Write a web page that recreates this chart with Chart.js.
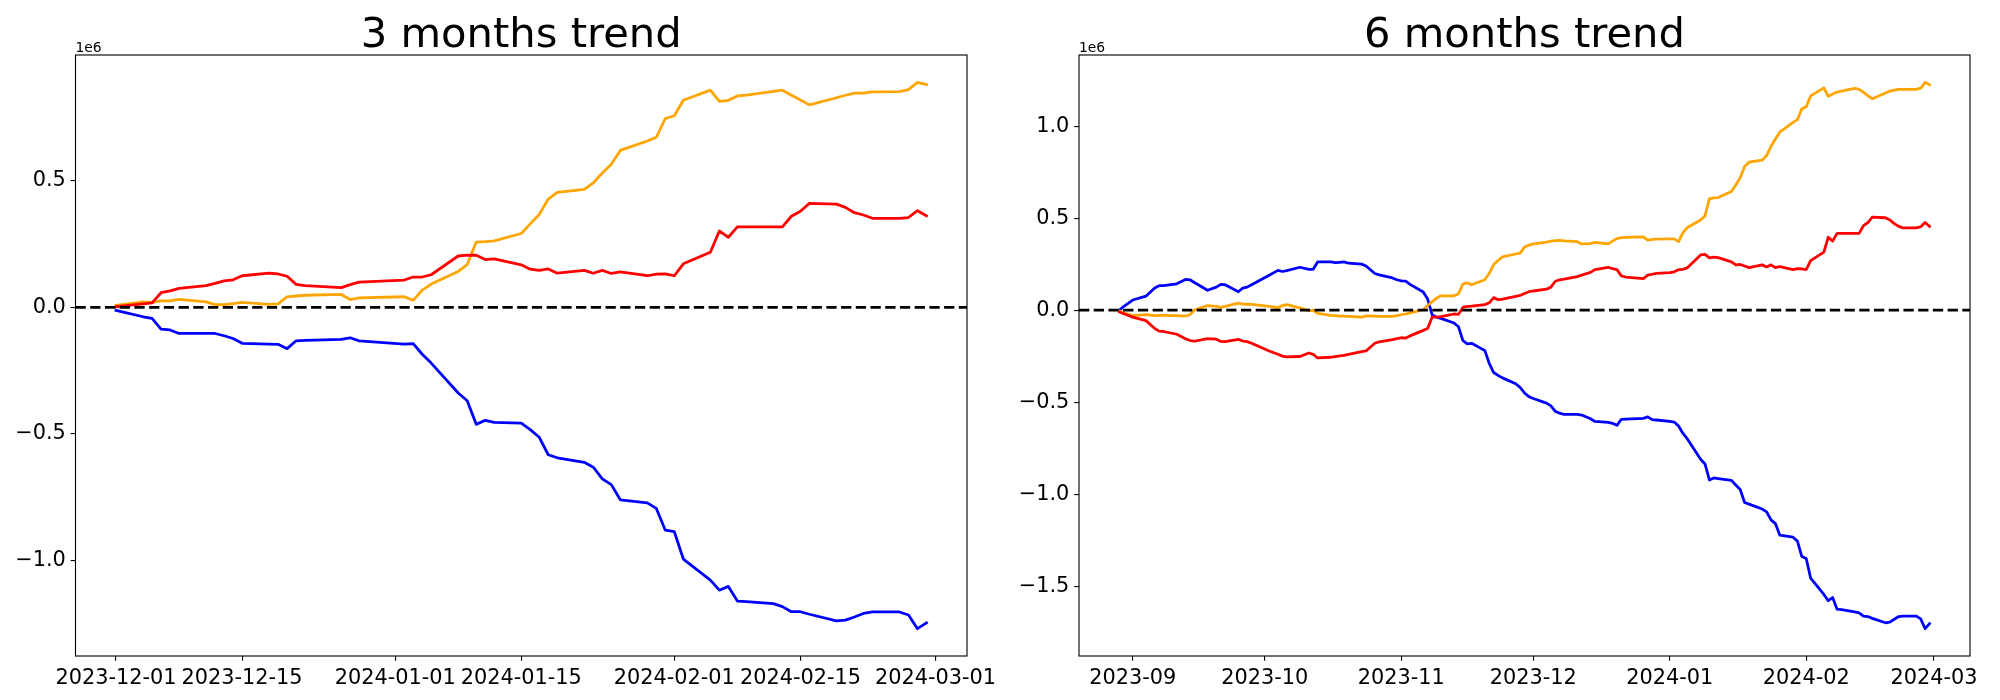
<!DOCTYPE html>
<html><head><meta charset="utf-8">
<script src="https://cdn.jsdelivr.net/npm/chart.js@4.4.1/dist/chart.umd.min.js"></script>
<style>
html,body{margin:0;padding:0;background:#fff;}
#wrap{position:relative;width:2000px;height:700px;overflow:hidden;background:#fff;}
.c{position:absolute;top:0;width:1000px;height:700px;}
</style></head><body>
<div id="wrap">
<div class="c" style="left:0"><canvas id="c3" width="1000" height="700"></canvas></div>
<div class="c" style="left:1000px"><canvas id="c6" width="1000" height="700"></canvas></div>
</div>
<script>
// ---------- 3 months trend (values in units of 1e6) ----------
const dates3m = [
 '2023-12-01','2023-12-04','2023-12-05','2023-12-06','2023-12-07','2023-12-08','2023-12-11','2023-12-12','2023-12-13','2023-12-14',
 '2023-12-15','2023-12-18','2023-12-19','2023-12-20','2023-12-21','2023-12-22','2023-12-26','2023-12-27','2023-12-28','2024-01-02',
 '2024-01-03','2024-01-04','2024-01-05','2024-01-08','2024-01-09','2024-01-10','2024-01-11','2024-01-12','2024-01-15','2024-01-16',
 '2024-01-17','2024-01-18','2024-01-19','2024-01-22','2024-01-23','2024-01-24','2024-01-25','2024-01-26','2024-01-29','2024-01-30',
 '2024-01-31','2024-02-01','2024-02-02','2024-02-05','2024-02-06','2024-02-07','2024-02-08','2024-02-09','2024-02-12','2024-02-13',
 '2024-02-14','2024-02-15','2024-02-16','2024-02-19','2024-02-20','2024-02-21','2024-02-22','2024-02-23','2024-02-26','2024-02-27',
 '2024-02-28','2024-02-29'];
const orange3m = [
 0.008,0.022,0.02,0.026,0.026,0.032,0.022,0.011,0.011,0.015,
 0.02,0.012,0.014,0.042,0.045,0.048,0.051,0.031,0.038,0.042,
 0.028,0.068,0.092,0.142,0.169,0.258,0.26,0.263,0.292,0.33,
 0.367,0.428,0.454,0.466,0.492,0.531,0.565,0.62,0.657,0.672,
 0.746,0.757,0.818,0.858,0.814,0.818,0.835,0.838,0.853,0.858,
 0.838,0.819,0.8,0.828,0.838,0.846,0.846,0.851,0.852,0.86,
 0.889,0.88];
const red3m = [
 0.003,0.014,0.018,0.058,0.065,0.075,0.086,0.095,0.105,0.109,
 0.125,0.135,0.132,0.123,0.091,0.086,0.078,0.09,0.1,0.108,
 0.12,0.12,0.129,0.203,0.206,0.206,0.189,0.192,0.168,0.151,
 0.146,0.152,0.135,0.146,0.135,0.146,0.134,0.14,0.125,0.131,
 0.132,0.125,0.172,0.218,0.302,0.277,0.318,0.318,0.318,0.318,
 0.36,0.38,0.411,0.408,0.395,0.374,0.365,0.352,0.352,0.355,
 0.382,0.362];
const blue3m = [
 -0.012,-0.037,-0.043,-0.086,-0.089,-0.103,-0.103,-0.103,-0.112,-0.123,
 -0.142,-0.145,-0.146,-0.163,-0.132,-0.13,-0.126,-0.12,-0.132,-0.145,
 -0.143,-0.185,-0.22,-0.338,-0.369,-0.462,-0.446,-0.454,-0.457,-0.483,
 -0.513,-0.582,-0.594,-0.612,-0.631,-0.677,-0.7,-0.76,-0.772,-0.794,
 -0.88,-0.886,-0.994,-1.077,-1.117,-1.102,-1.16,-1.162,-1.17,-1.182,
 -1.202,-1.202,-1.212,-1.238,-1.235,-1.223,-1.209,-1.203,-1.203,-1.215,
 -1.269,-1.246];
const xTicks3m = ['2023-12-01','2023-12-15','2024-01-01','2024-01-15','2024-02-01','2024-02-15','2024-03-01'];
const yTicks3m = [-1.0,-0.5,0.0,0.5];

// ---------- 6 months trend (values in units of 1e6) ----------
const dates6m = [
 '2023-08-29','2023-08-30','2023-09-01','2023-09-04','2023-09-06','2023-09-07','2023-09-08','2023-09-11','2023-09-13','2023-09-14',
 '2023-09-15','2023-09-18','2023-09-20','2023-09-21','2023-09-22','2023-09-25','2023-09-26','2023-09-27','2023-09-28','2023-10-02',
 '2023-10-04','2023-10-05','2023-10-06','2023-10-09','2023-10-11','2023-10-12','2023-10-13','2023-10-16','2023-10-17','2023-10-18',
 '2023-10-19','2023-10-20','2023-10-23','2023-10-24','2023-10-26','2023-10-27','2023-10-30','2023-10-31','2023-11-01','2023-11-02',
 '2023-11-03','2023-11-06','2023-11-07','2023-11-08','2023-11-09','2023-11-10','2023-11-13','2023-11-14','2023-11-15','2023-11-16',
 '2023-11-17','2023-11-20','2023-11-21','2023-11-22','2023-11-23','2023-11-24','2023-11-27','2023-11-28','2023-11-29','2023-11-30',
 '2023-12-01','2023-12-04','2023-12-05','2023-12-06','2023-12-07','2023-12-08','2023-12-11','2023-12-12','2023-12-14','2023-12-15',
 '2023-12-18','2023-12-19','2023-12-20','2023-12-21','2023-12-22','2023-12-26','2023-12-27','2023-12-28','2023-12-29','2024-01-01',
 '2024-01-02','2024-01-03','2024-01-04','2024-01-05','2024-01-08','2024-01-09','2024-01-10','2024-01-11','2024-01-12','2024-01-15',
 '2024-01-16','2024-01-17','2024-01-18','2024-01-19','2024-01-22','2024-01-23','2024-01-24','2024-01-25','2024-01-26','2024-01-29',
 '2024-01-30','2024-01-31','2024-02-01','2024-02-02','2024-02-05','2024-02-06','2024-02-07','2024-02-08','2024-02-09','2024-02-12',
 '2024-02-13','2024-02-14','2024-02-15','2024-02-16','2024-02-19','2024-02-20','2024-02-21','2024-02-22','2024-02-23','2024-02-26',
 '2024-02-27','2024-02-28','2024-02-29'];
const blue6m = [
 0,0.021,0.055,0.076,0.12,0.133,0.133,0.143,0.167,0.165,
 0.15,0.108,0.125,0.14,0.138,0.1,0.12,0.125,0.138,0.19,
 0.216,0.21,0.215,0.233,0.222,0.222,0.262,0.262,0.258,0.26,
 0.262,0.255,0.25,0.24,0.199,0.192,0.175,0.165,0.159,0.158,
 0.14,0.099,0.06,-0.025,-0.038,-0.045,-0.07,-0.09,-0.165,-0.183,
 -0.18,-0.22,-0.29,-0.339,-0.355,-0.368,-0.4,-0.42,-0.45,-0.47,
 -0.48,-0.505,-0.52,-0.55,-0.56,-0.567,-0.567,-0.57,-0.59,-0.605,
 -0.61,-0.615,-0.626,-0.593,-0.592,-0.588,-0.58,-0.595,-0.597,-0.605,
 -0.608,-0.63,-0.67,-0.7,-0.81,-0.836,-0.923,-0.912,-0.915,-0.925,
 -0.95,-0.975,-1.045,-1.054,-1.081,-1.096,-1.14,-1.16,-1.223,-1.234,
 -1.255,-1.339,-1.35,-1.456,-1.545,-1.579,-1.562,-1.625,-1.627,-1.64,
 -1.645,-1.663,-1.665,-1.675,-1.699,-1.695,-1.68,-1.665,-1.663,-1.663,
 -1.678,-1.731,-1.704];
const orange6m = [
 -0.005,-0.015,-0.03,-0.025,-0.03,-0.028,-0.028,-0.03,-0.032,-0.025,
 0,0.025,0.02,0.015,0.02,0.038,0.033,0.032,0.031,0.02,
 0.013,0.025,0.03,0.012,-0.004,0,-0.018,-0.028,-0.03,-0.032,
 -0.033,-0.034,-0.038,-0.031,-0.033,-0.034,-0.034,-0.03,-0.025,-0.021,
 -0.015,0.002,0.025,0.045,0.065,0.078,0.078,0.089,0.142,0.148,
 0.138,0.165,0.2,0.248,0.27,0.29,0.305,0.31,0.343,0.353,
 0.36,0.37,0.375,0.378,0.379,0.376,0.372,0.36,0.362,0.368,
 0.36,0.375,0.389,0.394,0.396,0.398,0.381,0.385,0.386,0.387,
 0.387,0.372,0.421,0.449,0.49,0.512,0.605,0.61,0.612,0.645,
 0.68,0.72,0.781,0.804,0.815,0.84,0.89,0.93,0.967,1.02,
 1.035,1.094,1.105,1.164,1.208,1.162,1.175,1.185,1.19,1.205,
 1.2,1.185,1.165,1.149,1.18,1.19,1.196,1.2,1.2,1.2,
 1.206,1.238,1.225];
const red6m = [
 -0.01,-0.02,-0.038,-0.057,-0.1,-0.114,-0.116,-0.131,-0.155,-0.165,
 -0.169,-0.155,-0.158,-0.17,-0.171,-0.159,-0.168,-0.171,-0.18,-0.222,
 -0.24,-0.25,-0.254,-0.252,-0.233,-0.24,-0.26,-0.256,-0.252,-0.248,
 -0.246,-0.24,-0.226,-0.222,-0.18,-0.172,-0.16,-0.155,-0.15,-0.152,
 -0.14,-0.11,-0.1,-0.038,-0.038,-0.035,-0.021,-0.023,0.015,0.02,
 0.022,0.03,0.04,0.068,0.057,0.06,0.075,0.08,0.09,0.1,
 0.104,0.114,0.125,0.157,0.165,0.169,0.182,0.19,0.205,0.22,
 0.233,0.225,0.22,0.186,0.18,0.171,0.19,0.195,0.2,0.204,
 0.208,0.22,0.222,0.23,0.3,0.303,0.284,0.288,0.285,0.262,
 0.246,0.248,0.24,0.231,0.246,0.235,0.246,0.231,0.237,0.22,
 0.226,0.224,0.22,0.269,0.315,0.396,0.375,0.417,0.417,0.417,
 0.417,0.459,0.476,0.506,0.502,0.49,0.47,0.455,0.447,0.447,
 0.453,0.476,0.455];
const xTicks6m = ['2023-09-01','2023-10-01','2023-11-01','2023-12-01','2024-01-01','2024-02-01','2024-03-01'];
const yTicks6m = [-1.5,-1.0,-0.5,0.0,0.5,1.0];

const titles = ['3 months trend', '6 months trend'];
const colors = {red:'#ff0000', orange:'#ffa500', blue:'#0000ff', zero:'#000000'};

// ---------- helpers ----------
const PX = 100/72;           // points -> pixels (dpi 100)
const FONT = '"DejaVu Sans", "Liberation Sans", sans-serif';

function dayNum(s){ const p = s.split('-').map(Number); return Date.UTC(p[0], p[1]-1, p[2]) / 86400000; }
function isoOf(v){ return new Date(Math.round(v) * 86400000).toISOString().slice(0,10); }
function fmtY(v){ return v.toFixed(1).replace('-', '\u2212'); }

const deco = {
  id: 'deco',
  afterDraw(chart, args, opts){
    const ctx = chart.ctx, a = chart.chartArea;
    ctx.save();
    ctx.strokeStyle = '#000';
    ctx.lineWidth = 0.8*PX;
    ctx.strokeRect(a.left, a.top, a.right - a.left, a.bottom - a.top);
    ctx.fillStyle = '#000';
    ctx.textBaseline = 'alphabetic';
    ctx.textAlign = 'center';
    ctx.font = (30*PX) + 'px ' + FONT;
    ctx.fillText(opts.title, (a.left + a.right)/2, a.top - 6*PX);
    ctx.textAlign = 'left';
    ctx.font = (10*PX) + 'px ' + FONT;
    ctx.fillText('1e6', a.left, a.top - 3);
    ctx.restore();
  }
};

function build(id, title, dates, series, xTicks, xFmt, yTicks, yAxisW, padRight){
  const xs = dates.map(dayNum);
  const all = series.reduce((acc, s) => acc.concat(s.values), [0]);
  const x0 = Math.min(...xs), x1 = Math.max(...xs);
  const y0 = Math.min(...all), y1 = Math.max(...all);
  const xm = 0.05*(x1 - x0), ym = 0.05*(y1 - y0);
  const xmin = x0 - xm, xmax = x1 + xm, ymin = y0 - ym, ymax = y1 + ym;

  const datasets = [{
    data: [{x:xmin, y:0}, {x:xmax, y:0}],
    borderColor: colors.zero, borderWidth: 2*PX,
    borderDash: [3.7*2*PX, 1.6*2*PX], pointRadius: 0, order: 0
  }];
  series.forEach((s, i) => datasets.push({
    data: xs.map((x, j) => ({x: x, y: s.values[j]})),
    borderColor: s.color, borderWidth: 2*PX, pointRadius: 0,
    tension: 0, borderJoinStyle: 'round', borderCapStyle: 'square', order: 3 - i
  }));

  const tickFont = {family: FONT, size: 15*PX};
  const grid = {display: true, drawOnChartArea: false, drawTicks: true, tickLength: 3.5*PX, color: '#000', lineWidth: 0.8*PX};

  return new Chart(document.getElementById(id), {
    type: 'line',
    data: {datasets: datasets},
    plugins: [deco],
    options: {
      responsive: false, animation: false, devicePixelRatio: 1,
      layout: {padding: {left: 0, right: padRight, top: 55, bottom: 0}},
      plugins: {legend: {display: false}, tooltip: {enabled: false}, title: {display: false}, deco: {title: title}},
      scales: {
        x: {
          type: 'linear', min: xmin, max: xmax,
          afterBuildTicks: s => { s.ticks = xTicks.map(t => ({value: dayNum(t)})); },
          afterFit: s => { s.height = 44; s.paddingLeft = 0; s.paddingRight = 0; },
          ticks: {autoSkip: false, maxRotation: 0, minRotation: 0, color: '#000', font: tickFont, padding: 3.5*PX,
                  callback: v => xFmt(isoOf(v))},
          grid: grid, border: {display: false}
        },
        y: {
          type: 'linear', min: ymin, max: ymax,
          afterBuildTicks: s => { s.ticks = yTicks.map(t => ({value: t})); },
          afterFit: s => { s.width = yAxisW; s.paddingTop = 0; s.paddingBottom = 0; },
          ticks: {color: '#000', font: tickFont, padding: 3.5*PX, callback: v => fmtY(v)},
          grid: grid, border: {display: false}
        }
      }
    }
  });
}

build('c3', titles[0], dates3m,
  [{values: blue3m, color: colors.blue}, {values: orange3m, color: colors.orange}, {values: red3m, color: colors.red}],
  xTicks3m, s => s, yTicks3m, 75.5, 33);
build('c6', titles[1], dates6m,
  [{values: blue6m, color: colors.blue}, {values: orange6m, color: colors.orange}, {values: red6m, color: colors.red}],
  xTicks6m, s => s.slice(0,7), yTicks6m, 79, 30);
</script>
</body></html>
